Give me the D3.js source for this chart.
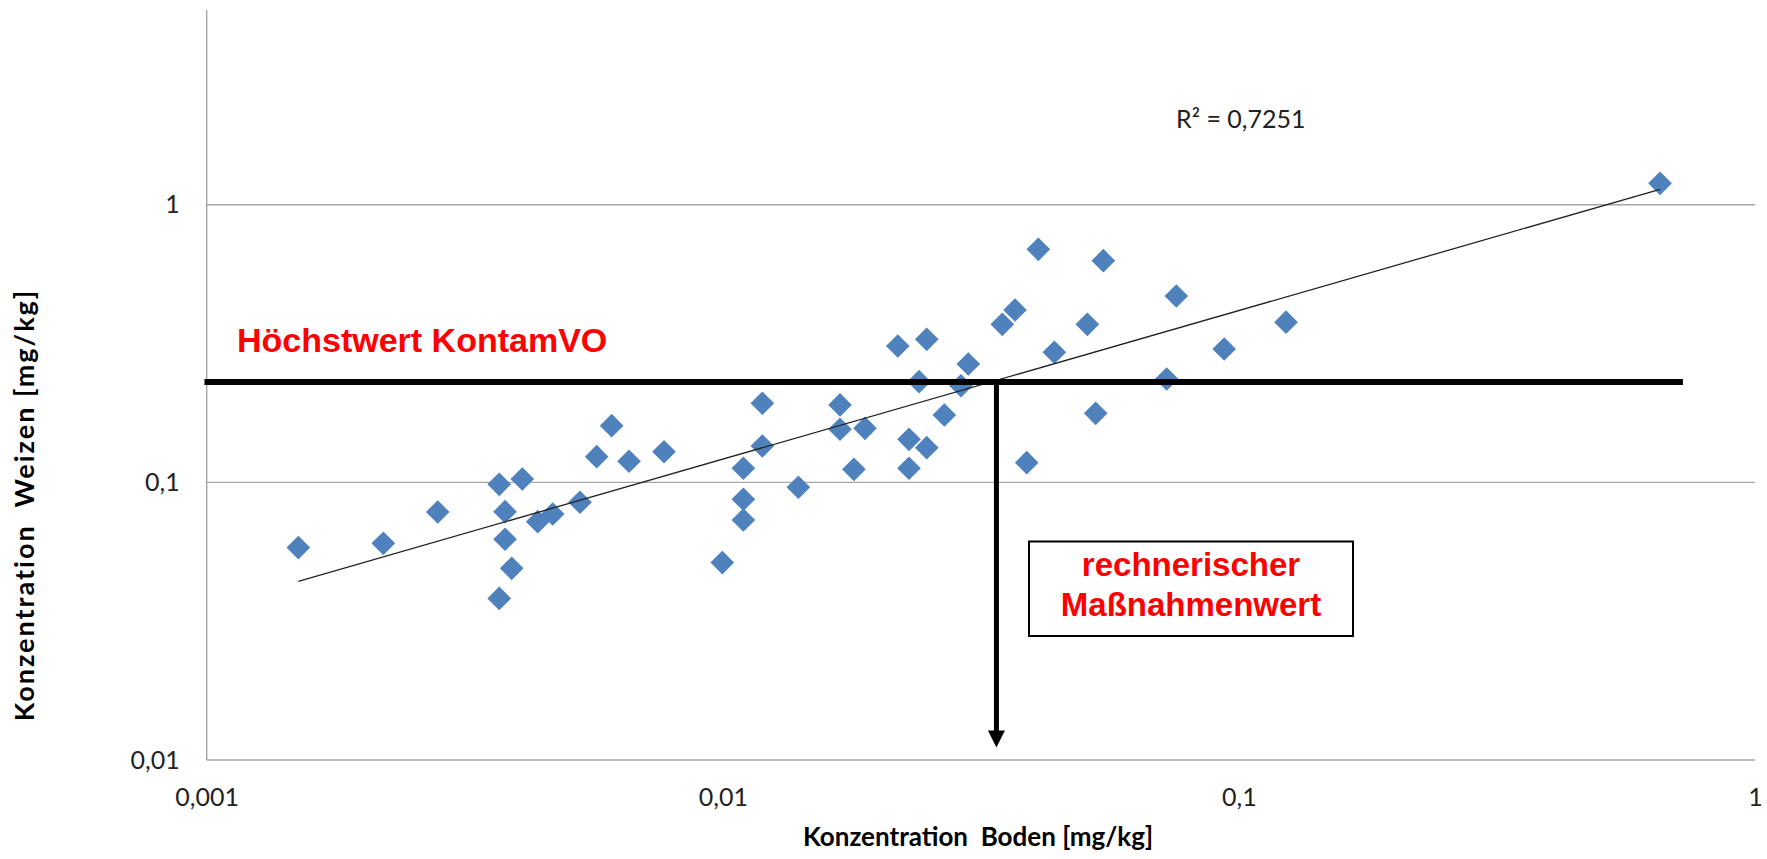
<!DOCTYPE html>
<html>
<head>
<meta charset="utf-8">
<script src="https://cdn.jsdelivr.net/npm/d3@7"></script>
<style>
  body { margin: 0; background: #fff; }
  svg { display: block; }
</style>
</head>
<body>
<div id="chart"></div>
<script>
// Konzentration Boden [mg/kg]
const boden = [
  0.001505, 0.002199, 0.002803, 0.003688, 0.004088, 0.003785, 0.003785, 0.003899,
  0.003688, 0.004379, 0.004682, 0.005288, 0.005697, 0.006090, 0.006581, 0.007693,
  0.009977, 0.01096, 0.01096, 0.01096, 0.01193, 0.01193, 0.01401, 0.01687,
  0.01687, 0.01795, 0.01886, 0.02183, 0.02295, 0.02295, 0.02400, 0.02484,
  0.02484, 0.02687, 0.02894, 0.02990, 0.03480, 0.03683, 0.03880, 0.04087,
  0.04389, 0.05085, 0.05279, 0.05462, 0.07245, 0.07563, 0.09365, 0.1234, 0.6546
]
// Konzentration Weizen [mg/kg]
const weizen = [
  0.0582, 0.0603, 0.0782, 0.0984, 0.1028, 0.0784, 0.0624, 0.0490,
  0.0382, 0.0722, 0.0769, 0.0848, 0.1237, 0.1600, 0.1191, 0.1289,
  0.0514, 0.1124, 0.0869, 0.0732, 0.1927, 0.1352, 0.0960, 0.1900,
  0.1553, 0.1114, 0.1565, 0.3099, 0.1429, 0.1124, 0.2304, 0.3275,
  0.1333, 0.1748, 0.2228, 0.2668, 0.3709, 0.4175, 0.1177, 0.6907,
  0.2941, 0.3709, 0.1773, 0.6285, 0.2356, 0.4691, 0.3021, 0.3775, 1.194
]

// power trendline, endpoints
const trendX = [0.001505, 0.6546]
const trendY = [0.0440, 1.136]
const rSquared = "R² = 0,7251"

// Höchstwert KontamVO and the resulting Maßnahmenwert
const limitValue = 0.23
const limitRange = [0.00099, 0.725]
const massnahmenwert = 0.0339
const arrowEnd = 0.0111

const xTicks = [0.001, 0.01, 0.1, 1]
const yTicks = [0.01, 0.1, 1]
const gridValues = [0.1, 1]

const W = 1767, H = 859
const plot = {left: 206.7, right: 1755, top: 10, bottom: 760}
const decadeY = 277.65

const fmt = d => String(d).replace(".", ",")

const svg = d3.select("#chart")
  .append("svg")
    .attr("width", W)
    .attr("height", H)

svg.append("rect")
  .attr("width", W)
  .attr("height", H)
  .attr("fill", "#fff")

// Scales
const x = d3.scaleLog()
  .domain([0.001, 1])
  .range([plot.left, plot.right])

const y = d3.scaleLog()
  .domain([0.01, 10])
  .range([plot.bottom, plot.bottom - 3 * decadeY])

// Gridlines
svg.selectAll("line.grid")
  .data(gridValues)
  .enter()
  .append("line")
  .classed("grid", true)
  .attr("x1", plot.left)
  .attr("x2", plot.right)
  .attr("y1", d => y(d))
  .attr("y2", d => y(d))
  .attr("stroke", "#a6a6a6")
  .attr("stroke-width", 1.4)

// Axis lines
svg.append("line")
  .attr("x1", plot.left).attr("x2", plot.right)
  .attr("y1", y(0.01)).attr("y2", y(0.01))
  .attr("stroke", "#a6a6a6")
  .attr("stroke-width", 1.4)

svg.append("line")
  .attr("x1", plot.left).attr("x2", plot.left)
  .attr("y1", y(0.01)).attr("y2", plot.top)
  .attr("stroke", "#a6a6a6")
  .attr("stroke-width", 1.4)

// Axes (labels only)
svg.append("g")
  .attr("transform", "translate(0," + plot.bottom + ")")
  .call(d3.axisBottom(x).tickValues(xTicks).tickFormat(fmt).tickSize(0).tickPadding(28))

svg.append("g")
  .attr("transform", "translate(" + (plot.left - 27) + ",0)")
  .call(d3.axisLeft(y).tickValues(yTicks).tickFormat(fmt).tickSize(0).tickPadding(0))

svg.selectAll(".domain").remove()
svg.selectAll(".tick text")
  .attr("font-family", "Lato, 'Open Sans', sans-serif")
  .attr("font-size", 25)
  .attr("fill", "#222")

// Axis titles
svg.append("text")
  .attr("x", 978)
  .attr("y", 846)
  .attr("text-anchor", "middle")
  .attr("font-family", "Lato, sans-serif")
  .attr("font-weight", "bold")
  .attr("font-size", 26)
  .style("white-space", "pre")
  .text("Konzentration  Boden [mg/kg]")

svg.append("text")
  .attr("transform", "translate(34,505) rotate(-90)")
  .attr("text-anchor", "middle")
  .attr("font-family", "Lato, sans-serif")
  .attr("font-weight", "bold")
  .attr("font-size", 27)
  .attr("letter-spacing", 2)
  .style("white-space", "pre")
  .text("Konzentration  Weizen [mg/kg]")

// Data points
const points = boden.map((b, i) => ({x: b, y: weizen[i]}))
const diamond = d3.symbol().type(d3.symbolSquare).size(280)

svg.append("g")
  .selectAll("path.point")
  .data(points)
  .enter()
  .append("path")
  .classed("point", true)
  .attr("d", diamond)
  .attr("transform", d => "translate(" + x(d.x) + "," + y(d.y) + ") rotate(45)")
  .attr("fill", "#4f81bd")

// Trendline
const trend = trendX.map((t, i) => [t, trendY[i]])
svg.append("path")
  .attr("fill", "none")
  .attr("stroke", "#222")
  .attr("stroke-width", 1.3)
  .attr("d", d3.line().x(d => x(d[0])).y(d => y(d[1]))(trend))

svg.append("text")
  .attr("x", 1176)
  .attr("y", 128)
  .attr("font-family", "Lato, sans-serif")
  .attr("font-size", 25)
  .attr("fill", "#222")
  .text(rSquared)

// Höchstwert line
svg.append("line")
  .attr("x1", x(limitRange[0]))
  .attr("x2", x(limitRange[1]))
  .attr("y1", y(limitValue))
  .attr("y2", y(limitValue))
  .attr("stroke", "#000")
  .attr("stroke-width", 6)

svg.append("text")
  .attr("x", 237)
  .attr("y", 352)
  .attr("font-family", "'Liberation Sans', Arial, sans-serif")
  .attr("font-weight", "bold")
  .attr("font-size", 34)
  .attr("fill", "#ff0000")
  .text("Höchstwert KontamVO")

// Arrow down to Maßnahmenwert
const ax = x(massnahmenwert)
const tipY = y(arrowEnd)
const headH = 17, headW = 8.5

svg.append("line")
  .attr("x1", ax).attr("x2", ax)
  .attr("y1", y(limitValue) - 3)
  .attr("y2", tipY - headH + 1)
  .attr("stroke", "#000")
  .attr("stroke-width", 5)

svg.append("path")
  .attr("d", d3.line()([[ax - headW, tipY - headH], [ax + headW, tipY - headH], [ax, tipY]]) + "Z")
  .attr("fill", "#000")

// Label box
const box = {x: 1029, y: 541.5, w: 324, h: 94.5}
svg.append("rect")
  .attr("x", box.x)
  .attr("y", box.y)
  .attr("width", box.w)
  .attr("height", box.h)
  .attr("fill", "#fff")
  .attr("stroke", "#000")
  .attr("stroke-width", 2)

const boxText = svg.append("text")
  .attr("text-anchor", "middle")
  .attr("font-family", "'Liberation Sans', Arial, sans-serif")
  .attr("font-weight", "bold")
  .attr("font-size", 33)
  .attr("fill", "#ff0000")

boxText.append("tspan")
  .attr("x", box.x + box.w / 2)
  .attr("y", 576)
  .text("rechnerischer")

boxText.append("tspan")
  .attr("x", box.x + box.w / 2)
  .attr("y", 616)
  .text("Maßnahmenwert")
</script>
</body>
</html>
